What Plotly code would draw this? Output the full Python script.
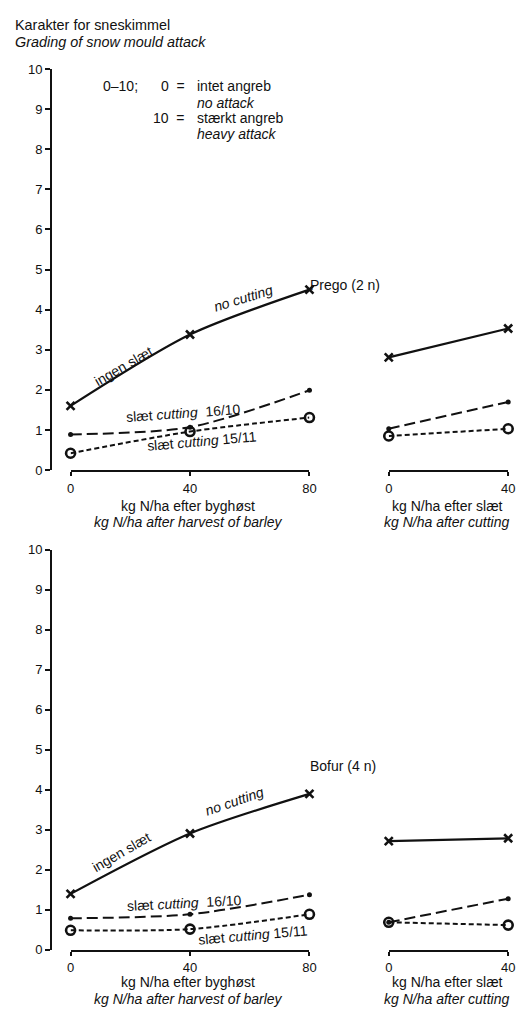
import plotly.graph_objects as go

W, H = 524, 1017

# ---------------- data ----------------
n_barley = [0, 40, 80]
n_cut = [0, 40]

# Prego (2 n)
prego_none_barley = [1.6, 3.38, 4.5]
prego_1610_barley = [0.89, 1.07, 1.99]
prego_1511_barley = [0.42, 0.96, 1.31]
prego_none_cut = [2.81, 3.53]
prego_1610_cut = [1.03, 1.70]
prego_1511_cut = [0.85, 1.03]

# Bofur (4 n)
bofur_none_barley = [1.40, 2.91, 3.90]
bofur_1610_barley = [0.79, 0.89, 1.38]
bofur_1511_barley = [0.49, 0.52, 0.89]
bofur_none_cut = [2.72, 2.79]
bofur_1610_cut = [0.69, 1.28]
bofur_1511_cut = [0.69, 0.62]

y_ticks = list(range(0, 11))
x_ticks_barley = [0, 40, 80]
x_ticks_cut = [0, 40]

FONT = "Liberation Sans, Arial, Helvetica, sans-serif"
INK = "#111111"
FS = 14      # text
FT = 13      # tick labels


def px(x):
    return x / W


def py(y):
    return 1 - y / H


fig = go.Figure()


def add_series(xs, ys, xa, ya, kind):
    if kind == "none":
        line = dict(color=INK, width=2.2, shape="spline", smoothing=0.8)
        marker = dict(symbol="x-thin-open", size=8, line=dict(width=2.6, color=INK), color=INK)
    elif kind == "1610":
        line = dict(color=INK, width=2.0, dash="11px,5px", shape="spline", smoothing=0.8)
        marker = dict(symbol="circle", size=5, color=INK)
    else:
        line = dict(color=INK, width=2.0, dash="5px,3px", shape="spline", smoothing=0.8)
        marker = dict(symbol="circle-open", size=9, line=dict(width=2.6, color=INK), color=INK)
    fig.add_trace(go.Scatter(x=xs, y=ys, xaxis=xa, yaxis=ya, mode="lines+markers",
                             line=line, marker=marker, cliponaxis=False,
                             showlegend=False, hoverinfo="skip"))


add_series(n_barley, prego_none_barley, "x", "y", "none")
add_series(n_barley, prego_1610_barley, "x", "y", "1610")
add_series(n_barley, prego_1511_barley, "x", "y", "1511")
add_series(n_cut, prego_none_cut, "x2", "y", "none")
add_series(n_cut, prego_1610_cut, "x2", "y", "1610")
add_series(n_cut, prego_1511_cut, "x2", "y", "1511")

add_series(n_barley, bofur_none_barley, "x3", "y2", "none")
add_series(n_barley, bofur_1610_barley, "x3", "y2", "1610")
add_series(n_barley, bofur_1511_barley, "x3", "y2", "1511")
add_series(n_cut, bofur_none_cut, "x4", "y2", "none")
add_series(n_cut, bofur_1610_cut, "x4", "y2", "1610")
add_series(n_cut, bofur_1511_cut, "x4", "y2", "1511")

top_dom = [py(470), py(63)]
bot_dom = [py(957), py(551)]
left_dom = [px(68), px(312)]
right_dom = [px(393), px(515)]

xcommon = dict(showline=True, linewidth=2, linecolor=INK, ticks="outside", ticklen=4,
               tickwidth=1.6, tickcolor=INK, showgrid=False, zeroline=False,
               tickfont=dict(family=FONT, size=FT, color=INK), fixedrange=True,
               ticklabelstandoff=1)
ycommon = dict(showline=True, linewidth=2, linecolor=INK, ticks="outside", ticklen=5,
               tickwidth=1.6, tickcolor=INK, showgrid=False, zeroline=False,
               tickfont=dict(family=FONT, size=FT, color=INK), range=[0, 10],
               tickvals=y_ticks, anchor="free", position=px(48), fixedrange=True)

fig.update_layout(
    width=W, height=H, margin=dict(l=0, r=0, t=0, b=0),
    paper_bgcolor="white", plot_bgcolor="rgba(0,0,0,0)",
    xaxis=dict(domain=left_dom, range=[0, 80], tickvals=x_ticks_barley, anchor="y", **xcommon),
    xaxis2=dict(domain=right_dom, range=[0, 40], tickvals=x_ticks_cut, anchor="y", **xcommon),
    xaxis3=dict(domain=left_dom, range=[0, 80], tickvals=x_ticks_barley, anchor="y2", **xcommon),
    xaxis4=dict(domain=right_dom, range=[0, 40], tickvals=x_ticks_cut, anchor="y2", **xcommon),
    yaxis=dict(domain=top_dom, **ycommon),
    yaxis2=dict(domain=bot_dom, **ycommon),
)

ann = []


def txt(x, y, text, size=FS, xanchor="left", xref="paper", yref="paper", angle=0, yanchor="middle"):
    ann.append(dict(x=x, y=y, xref=xref, yref=yref, text=text, showarrow=False,
                    xanchor=xanchor, yanchor=yanchor, textangle=angle, borderpad=0,
                    font=dict(family=FONT, size=size, color=INK)))


# header
txt(px(10), py(18), "Karakter for sneskimmel", size=14.4)
txt(px(10), py(36), "<i>Grading of snow mould attack</i>", size=14.4)

# scale legend
txt(px(100), py(80), "0–10;")
txt(px(186), py(80), "0  =", xanchor="right")
txt(px(196), py(80), "intet angreb")
txt(px(196), py(97), "<i>no attack</i>")
txt(px(186), py(113), "10  =", xanchor="right")
txt(px(196), py(113), "stærkt angreb")
txt(px(196), py(129), "<i>heavy attack</i>")

# panel labels
txt(px(312), py(282), "Prego (2 n)")
txt(px(312), py(770), "Bofur (4 n)")

# axis titles
for yy1, yy2 in [(506, 523), (990, 1007)]:
    txt(px(188), py(yy1), "kg N/ha efter byghøst", xanchor="center")
    txt(px(188), py(yy2), "<i>kg N/ha after harvest of barley</i>", xanchor="center")
    txt(px(453), py(yy1), "kg N/ha efter slæt", xanchor="center")
    txt(px(453), py(yy2), "<i>kg N/ha after cutting</i>", xanchor="center")

# curve labels (data coordinates)
txt(17.7, 2.6, "ingen slæt", xanchor="center", xref="x", yref="y", angle=-30)
txt(58, 4.28, "<i>no cutting</i>", xanchor="center", xref="x", yref="y", angle=-17)
txt(37.7, 1.42, "slæt <i>cutting</i>  16/10", xanchor="center", xref="x", yref="y", angle=-4)
txt(44, 0.72, "slæt <i>cutting</i> 15/11", xanchor="center", xref="x", yref="y", angle=-5)

txt(17, 2.45, "ingen slæt", xanchor="center", xref="x3", yref="y2", angle=-30)
txt(55, 3.72, "<i>no cutting</i>", xanchor="center", xref="x3", yref="y2", angle=-19)
txt(38, 1.17, "slæt <i>cutting</i>  16/10", xanchor="center", xref="x3", yref="y2", angle=-3)
txt(61, 0.38, "slæt <i>cutting</i> 15/11", xanchor="center", xref="x3", yref="y2", angle=-5)

fig.update_layout(annotations=ann)

fig.write_html(
    "out.html",
    config={"responsive": False, "displayModeBar": False},
    post_script="document.body.style.margin='0';document.documentElement.style.overflow='hidden';document.body.style.overflow='hidden';",
)
